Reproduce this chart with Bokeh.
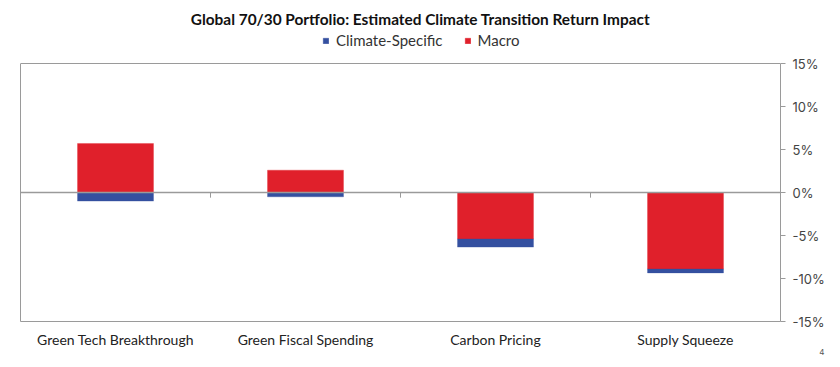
from bokeh.plotting import figure
from bokeh.models import (ColumnDataSource, Range1d, LinearAxis, FixedTicker, Legend, LegendItem, Span, Title, Label)
from bokeh.embed import file_html
from bokeh.resources import INLINE

categories = ["Green Tech Breakthrough", "Green Fiscal Spending", "Carbon Pricing", "Supply Squeeze"]
macro = [5.7, 2.6, -5.4, -8.9]
climate = [-1.0, -0.5, -0.95, -0.45]
y_ticks = [-15, -10, -5, 0, 5, 10, 15]
y_tick_labels = {t: f"{t}%" for t in y_ticks}
title_text = "Global 70/30 Portfolio: Estimated Climate Transition Return Impact"

RED = "#E0202B"
BLUE = "#3450A0"
GREY = "#9a9a9a"

n = len(categories)
xs = [i + 0.5 for i in range(n)]
m_bottom = [0] * n
m_top = macro
c_bottom = [m if (m * c > 0) else 0 for m, c in zip(macro, climate)]
c_top = [b + c for b, c in zip(c_bottom, climate)]

YMIN, YMAX = y_ticks[0], y_ticks[-1]
# extra headroom inside the frame holds the title and legend
p = figure(frame_width=760, frame_height=321, output_backend="svg", toolbar_location=None,
           x_range=Range1d(0, n), y_range=Range1d(YMIN, YMAX + 7.326), y_axis_location=None,
           x_axis_location=None, min_border_left=20, min_border_right=50,
           min_border_bottom=44, min_border_top=0)

p.xgrid.visible = False
p.ygrid.visible = False
p.outline_line_color = None

src_m = ColumnDataSource(dict(x=xs, bottom=m_bottom, top=m_top))
src_c = ColumnDataSource(dict(x=xs, bottom=c_bottom, top=c_top))
rm = p.vbar(x="x", bottom="bottom", top="top", width=0.4, source=src_m,
            fill_color=RED, line_color=RED, line_alpha=0.3)
rc = p.vbar(x="x", bottom="bottom", top="top", width=0.4, source=src_c,
            fill_color=BLUE, line_color=BLUE, line_alpha=0.3)

# top border of the plot box
p.add_layout(Span(location=YMAX, dimension="width", line_color=GREY, line_width=1))
# zero line with ticks between categories
p.add_layout(Span(location=0, dimension="width", line_color=GREY, line_width=1.5))
bounds = list(range(n))
p.segment(x0=bounds, x1=bounds, y0=[0] * n, y1=[-0.6] * n, line_color=GREY, line_width=1)

# left border (axis line only)
la = LinearAxis(ticker=FixedTicker(ticks=[]), bounds=(YMIN, YMAX))
la.axis_line_color = GREY
la.major_tick_line_color = None
la.minor_tick_line_color = None
la.major_label_text_font_size = "0px"
p.add_layout(la, "left")

# right y axis
ya = LinearAxis(ticker=FixedTicker(ticks=y_ticks), major_label_overrides=y_tick_labels,
                bounds=(YMIN, YMAX))
ya.axis_line_color = GREY
ya.major_tick_line_color = GREY
ya.major_tick_in = 0
ya.major_tick_out = 5
ya.minor_tick_line_color = None
ya.major_label_text_font = "Inter"
ya.major_label_text_font_size = "13px"
ya.major_label_text_color = "#444444"
ya.major_label_standoff = 7
p.add_layout(ya, "right")

# category label axis (its line is the bottom border)
ca = LinearAxis(ticker=FixedTicker(ticks=xs),
                major_label_overrides={x: c for x, c in zip(xs, categories)})
ca.axis_line_color = GREY
ca.major_tick_line_color = None
ca.minor_tick_line_color = None
ca.major_label_text_font = "Lato"
ca.major_label_text_font_size = "14px"
ca.major_label_text_color = "#222222"
ca.major_label_standoff = 3
p.add_layout(ca, "below")

p.add_layout(Title(text="4", align="right", text_font="Inter", text_font_size="8px",
                   text_font_style="normal", text_color="#555555", offset=-44, standoff=-9),
             "below")

legend = Legend(items=[LegendItem(label="Climate-Specific", renderers=[rc]),
                       LegendItem(label="Macro", renderers=[rm])],
                orientation="horizontal", location=(302, 272),
                glyph_width=7, glyph_height=7, label_text_font="Lato",
                label_text_font_size="15px", label_text_color="#333333",
                border_line_color=None, background_fill_alpha=0,
                spacing=21, padding=2, margin=0, label_standoff=7)
p.add_layout(legend, "center")

p.add_layout(Label(x=2.105, y=20.23, text=title_text, text_font="Lato",
                   text_font_style="bold", text_font_size="15.4px", text_color="#111111",
                   text_align="center", text_baseline="middle"))

open("out.html", "w").write(file_html(p, INLINE))
